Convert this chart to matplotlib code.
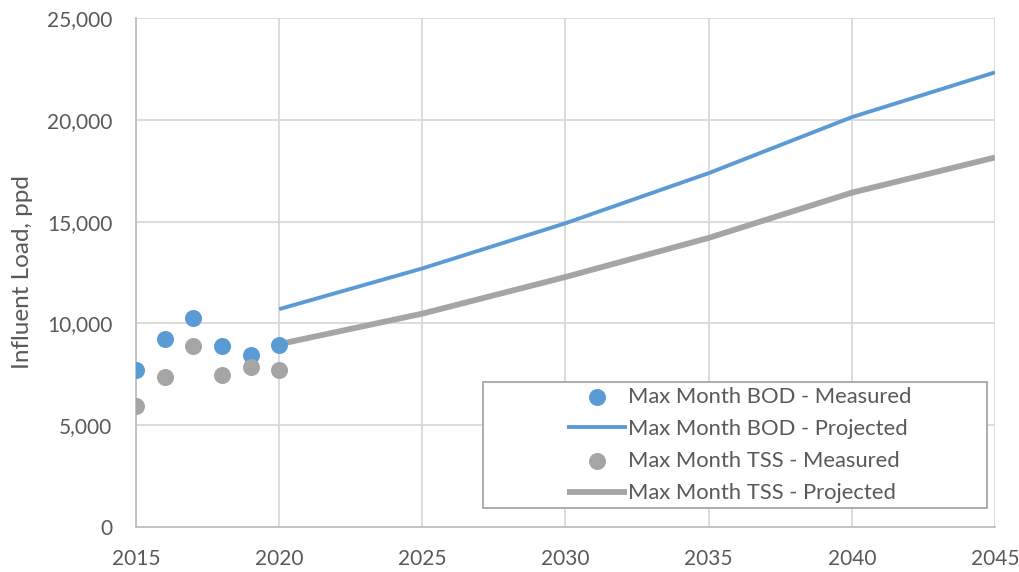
import matplotlib
matplotlib.use("Agg")
import matplotlib.pyplot as plt
from matplotlib.patches import Rectangle
from matplotlib.ticker import FuncFormatter

plt.rcParams['font.family'] = ['Lato', 'DejaVu Sans']

meas_years = [2015, 2016, 2017, 2018, 2019, 2020]
bod_measured = [7720, 9220, 10260, 8900, 8440, 8950]
tss_measured = [5930, 7370, 8870, 7460, 7840, 7700]

proj_years = [2020, 2025, 2030, 2035, 2040, 2045]
bod_projected = [10700, 12700, 14920, 17380, 20130, 22330]
tss_projected = [8980, 10480, 12280, 14200, 16420, 18150]

labels = ["Max Month BOD - Measured", "Max Month BOD - Projected",
          "Max Month TSS - Measured", "Max Month TSS - Projected"]
ylabel = "Influent Load, ppd"

blue = "#5B9BD5"
gray = "#A5A5A5"
txt = "#595959"

fig = plt.figure(figsize=(10.2, 5.72), dpi=100)
ax = fig.add_axes([136/1020, 1-527/572, 859/1020, 509/572])

h1 = ax.scatter(meas_years, bod_measured, s=150, color=blue, zorder=4, linewidths=0)
h2, = ax.plot(proj_years, bod_projected, color=blue, lw=2.8, zorder=3, solid_capstyle='butt')
h3 = ax.scatter(meas_years, tss_measured, s=150, color=gray, zorder=4, linewidths=0)
h4, = ax.plot(proj_years, tss_projected, color=gray, lw=4.2, zorder=3, solid_capstyle='butt')

ax.set_xlim(2015, 2045)
ax.set_ylim(0, 25000)
ax.set_xticks(range(2015, 2046, 5))
ax.set_yticks(range(0, 25001, 5000))
ax.yaxis.set_major_formatter(FuncFormatter(lambda v, p: f"{int(v):,}"))
ax.grid(True, color="#D9D9D9", lw=1.3, zorder=0)
ax.set_axisbelow(True)
for s in ['top', 'right']:
    ax.spines[s].set_visible(False)
for s in ['left', 'bottom']:
    ax.spines[s].set_color("#BFBFBF")
    ax.spines[s].set_linewidth(1.3)
ax.tick_params(axis='both', length=0, labelsize=15, colors=txt)
ax.tick_params(axis='y', pad=17)
ax.tick_params(axis='x', pad=16)
ax.set_ylabel(ylabel, fontsize=17.5, color=txt, labelpad=10)

rx0 = (483-136)/859
rx1 = (987-136)/859
ry0 = (527-508)/509
ry1 = (527-382)/509
ax.add_patch(Rectangle((rx0, ry0), rx1-rx0, ry1-ry0, transform=ax.transAxes,
                       facecolor="white", edgecolor="#A6A6A6", lw=1.3, zorder=5))

leg = ax.legend([h1, h2, h3, h4], labels, loc='center left',
                bbox_to_anchor=((567-136)/859, (527-445)/509),
                frameon=False, fontsize=15.8, handlelength=2.75, handletextpad=0.05,
                borderpad=0, borderaxespad=0, labelspacing=0.56, labelcolor=txt,
                markerscale=1.0, scatterpoints=1)
leg.set_zorder(6)

fig.savefig("out.png", dpi=100)
